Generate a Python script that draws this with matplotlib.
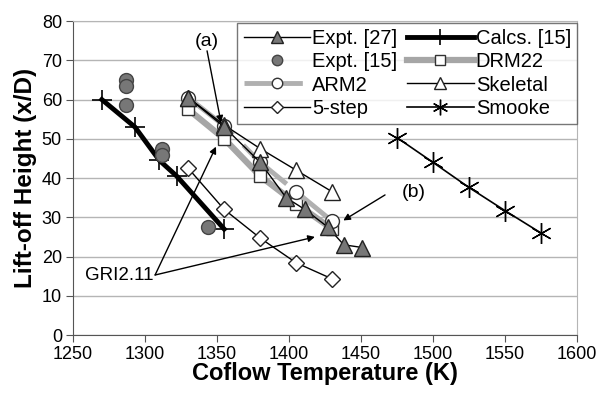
import matplotlib.pyplot as plt

plt.rcParams['font.family'] = ['Liberation Sans', 'DejaVu Sans']

# Data
expt27_x = [1330, 1355, 1380, 1398, 1411, 1427, 1438, 1451]
expt27_y = [60.5, 53, 44, 35, 32, 27.5, 23, 22.3]

expt15_x = [1287, 1287, 1287, 1312, 1312, 1344]
expt15_y = [65, 63.5, 58.5, 47.5, 46, 27.5]

calcs_x = [1270, 1293, 1310, 1322, 1355]
calcs_y = [60, 53, 44.5, 40.5, 27]

model_x = [1330, 1355, 1380, 1405, 1430]
arm2_y = [60.5, 53.3, 44, 36.5, 29]
drm22_y = [57.5, 50, 40.5, 33.5, 27]
skeletal_y = [60.5, 53.5, 47.5, 42, 36.5]
step5_y = [42.5, 32, 24.7, 18.4, 14.3]

smooke_x = [1475, 1500, 1525, 1550, 1575]
smooke_y = [50.3, 44, 37.6, 31.7, 26]

fig = plt.figure(figsize=(6.01, 3.97), dpi=100)
ax = fig.add_axes([0.1215, 0.156, 0.8385, 0.791])

grey = '#a6a6a6'
fill = '#777777'

# Lines (thick grey ones first)
ax.plot(model_x, drm22_y, color=grey, lw=4.5, marker='s', ms=9,
        mfc='white', mec='#333333', mew=1, label='DRM22', zorder=2)
ax.plot(model_x, arm2_y, color='#b0b0b0', lw=3.5, dashes=(12, 3), marker='o', ms=10,
        mfc='white', mec='#333333', mew=1, label='ARM2', zorder=2)
ax.plot(calcs_x, calcs_y, color='black', lw=3.5, marker='+', ms=15, mew=1.2,
        label='Calcs. [15]', zorder=3)
ax.plot(model_x, skeletal_y, color='black', lw=1, marker='^', ms=11,
        mfc='white', mec='#222222', mew=1, label='Skeletal', zorder=3)
ax.plot(model_x, step5_y, color='black', lw=1, marker='D', ms=8,
        mfc='white', mec='#222222', mew=1, label='5-step', zorder=3)
ax.plot(smooke_x, smooke_y, color='black', lw=1.2, marker=(6, 2, 0), ms=15, mew=1,
        label='Smooke', zorder=3)
ax.plot(expt27_x, expt27_y, color='black', lw=1, marker='^', ms=11,
        mfc=fill, mec='#222222', mew=1, label='Expt. [27]', zorder=4)
ax.plot(expt15_x, expt15_y, ls='none', marker='o', ms=10,
        mfc=fill, mec='#444444', mew=1, label='Expt. [15]', zorder=4)

# Annotations
arrow = dict(arrowstyle='-|>', color='black', lw=1, mutation_scale=10, shrinkA=0, shrinkB=0)
ax.text(1343, 74.8, '(a)', fontsize=14, ha='center', va='center')
ax.annotate('', xy=(1352.8, 54.1), xytext=(1343.1, 72.4), arrowprops=arrow)
ax.text(1478, 36.2, '(b)', fontsize=14, ha='left', va='center')
ax.annotate('', xy=(1437.7, 29.2), xytext=(1466.7, 35.7), arrowprops=arrow)
ax.text(1306, 15.3, 'GRI2.11', fontsize=13.5, ha='right', va='center')
ax.annotate('', xy=(1349.3, 48), xytext=(1307, 15.3), arrowprops=arrow)
ax.annotate('', xy=(1418, 25), xytext=(1307, 15.3), arrowprops=arrow)

# Axes
ax.set_xlim(1250, 1600)
ax.set_ylim(0, 80)
ax.set_xticks(range(1250, 1601, 50))
ax.set_yticks(range(0, 81, 10))
ax.tick_params(labelsize=13, direction='out', length=5, color='#555555', pad=3)
ax.yaxis.grid(True, color='#b5b5b5', lw=1)
ax.set_axisbelow(True)
for s in ['left', 'bottom']:
    ax.spines[s].set_color('#555555')
for s in ['top', 'right']:
    ax.spines[s].set_color('#b5b5b5')

ax.set_xlabel('Coflow Temperature (K)', fontsize=17, fontweight='bold', labelpad=-1)
ax.set_ylabel('Lift-off Height (x/D)', fontsize=17.5, fontweight='bold', labelpad=3)

order = ['Expt. [27]', 'Expt. [15]', 'ARM2', '5-step', 'Calcs. [15]', 'DRM22', 'Skeletal', 'Smooke']
h, l = ax.get_legend_handles_labels()
d = dict(zip(l, h))
leg = ax.legend([d[k] for k in order], order, ncol=2, loc='upper right',
                bbox_to_anchor=(1.0, 0.995), fontsize=14.5, frameon=True, fancybox=False,
                borderaxespad=0, handlelength=3.3, handletextpad=0.1, columnspacing=0.5,
                labelspacing=0.22, borderpad=0.3, markerscale=0.75)
leg.get_frame().set_edgecolor('#555555')
leg.get_frame().set_linewidth(1)

plt.savefig('out.png', dpi=100)
